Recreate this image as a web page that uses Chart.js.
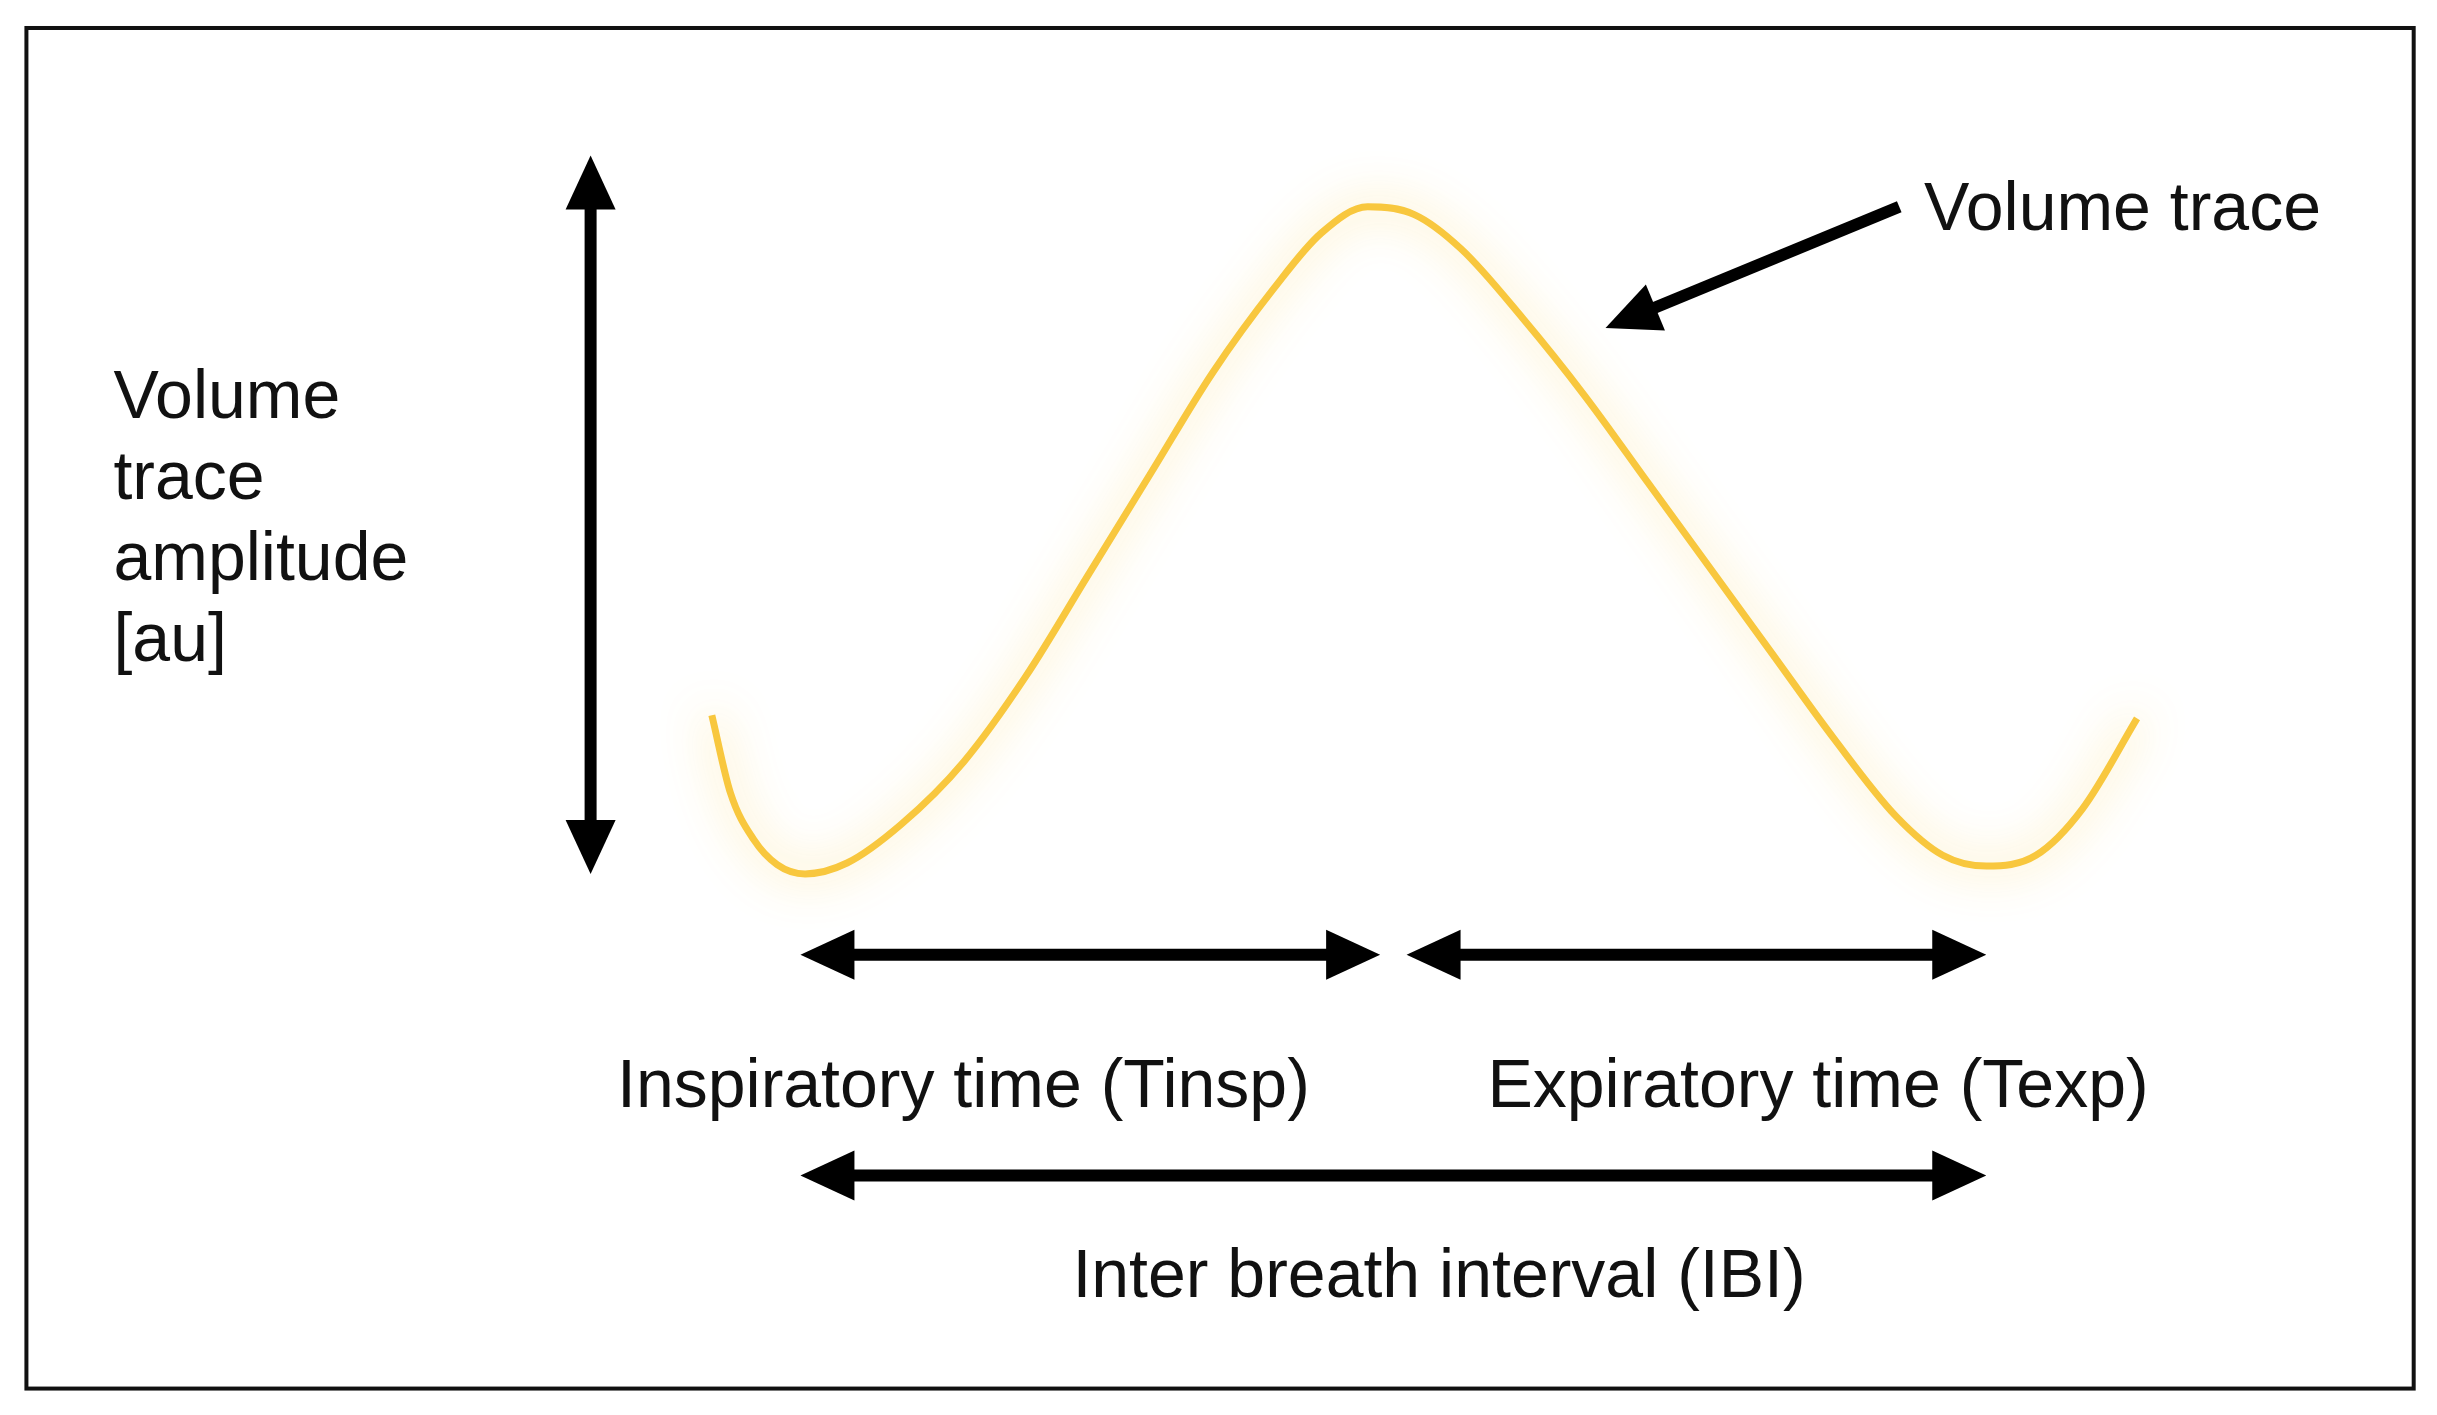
<!DOCTYPE html>
<html>
<head>
<meta charset="utf-8">
<script src="https://cdn.jsdelivr.net/npm/chart.js@4"></script>
<style>
  html, body { margin: 0; padding: 0; background: #fff; }
  canvas { display: block; }
</style>
</head>
<body>
<canvas id="c" width="2437" height="1415"></canvas>
<script>
// values, in figure units (x: 0..1568, y: 0..910 top-down)
const traceX = [458, 470, 485, 500, 518, 545, 580, 620, 660, 700, 740, 780, 820, 850, 880, 910, 940, 980, 1020, 1060, 1100, 1140, 1180, 1220, 1250, 1278, 1310, 1340, 1375];
const traceY = [460, 510, 540, 556, 562, 555, 530, 490, 435, 370, 305, 240, 185, 150, 133, 138, 160, 205, 255, 310, 365, 420, 475, 525, 550, 557, 550, 520, 462];

// arrows: [x1, y1, x2, y2, double-headed]
const arrows = [
  [380, 100, 380, 562, true],
  [515, 614, 888, 614, true],
  [905, 614, 1278, 614, true],
  [515, 756, 1278, 756, true],
  [1222, 133, 1033, 211, false]
];

// labels: [text, x, y]
const labels = [
  ['Volume', 73, 257],
  ['trace', 73, 309],
  ['amplitude', 73, 361],
  ['[au]', 73, 413],
  ['Volume trace', 1238, 136],
  ['Inspiratory time (Tinsp)', 397, 700],
  ['Expiratory time (Texp)', 957, 700],
  ['Inter breath interval (IBI)', 690, 822]
];

const glow = {
  id: 'glow',
  beforeDatasetDraw(chart) {
    const ctx = chart.ctx;
    ctx.save();
    ctx.shadowColor = 'rgba(250, 200, 50, 0.7)';
    ctx.shadowBlur = 45;
  },
  afterDatasetDraw(chart) { chart.ctx.restore(); }
};

const annotations = {
  id: 'annotations',
  afterDraw(chart) {
    const ctx = chart.ctx;
    const sx = chart.scales.x, sy = chart.scales.y;
    const px = v => sx.getPixelForValue(v);
    const py = v => sy.getPixelForValue(v);

    // frame
    ctx.save();
    ctx.strokeStyle = '#111';
    ctx.lineWidth = 4;
    ctx.strokeRect(px(17), py(18), px(1553) - px(17), py(893) - py(18));

    function head(x, y, ang) {
      const L = 54, W = 25;
      ctx.beginPath();
      ctx.moveTo(x, y);
      ctx.lineTo(x - L * Math.cos(ang) + W * Math.sin(ang), y - L * Math.sin(ang) - W * Math.cos(ang));
      ctx.lineTo(x - L * Math.cos(ang) - W * Math.sin(ang), y - L * Math.sin(ang) + W * Math.cos(ang));
      ctx.closePath();
      ctx.fill();
    }
    ctx.fillStyle = '#000';
    ctx.strokeStyle = '#000';
    ctx.lineWidth = 12;
    arrows.forEach(a => {
      const x1 = px(a[0]), y1 = py(a[1]), x2 = px(a[2]), y2 = py(a[3]);
      const ang = Math.atan2(y2 - y1, x2 - x1);
      const c = Math.cos(ang) * 40, s = Math.sin(ang) * 40;
      ctx.beginPath();
      ctx.moveTo(a[4] ? x1 + c : x1, a[4] ? y1 + s : y1);
      ctx.lineTo(x2 - c, y2 - s);
      ctx.stroke();
      head(x2, y2, ang);
      if (a[4]) head(x1, y1, ang + Math.PI);
    });

    ctx.font = '68px "Liberation Sans", Arial, sans-serif';
    ctx.fillStyle = '#111';
    ctx.textBaseline = 'middle';
    ctx.textAlign = 'left';
    labels.forEach(l => ctx.fillText(l[0], px(l[1]), py(l[2])));
    ctx.restore();
  }
};

new Chart(document.getElementById('c').getContext('2d'), {
  type: 'line',
  data: {
    datasets: [{
      data: traceX.map((x, i) => ({ x: x, y: traceY[i] })),
      borderColor: '#f8c73e',
      borderWidth: 7,
      pointRadius: 0,
      cubicInterpolationMode: 'monotone',
      fill: false
    }]
  },
  options: {
    responsive: false,
    animation: false,
    layout: { padding: 0 },
    scales: {
      x: { type: 'linear', min: 0, max: 1568, display: false },
      y: { type: 'linear', min: 0, max: 910, reverse: true, display: false }
    },
    plugins: { legend: { display: false }, tooltip: { enabled: false } }
  },
  plugins: [glow, annotations]
});
</script>
</body>
</html>
